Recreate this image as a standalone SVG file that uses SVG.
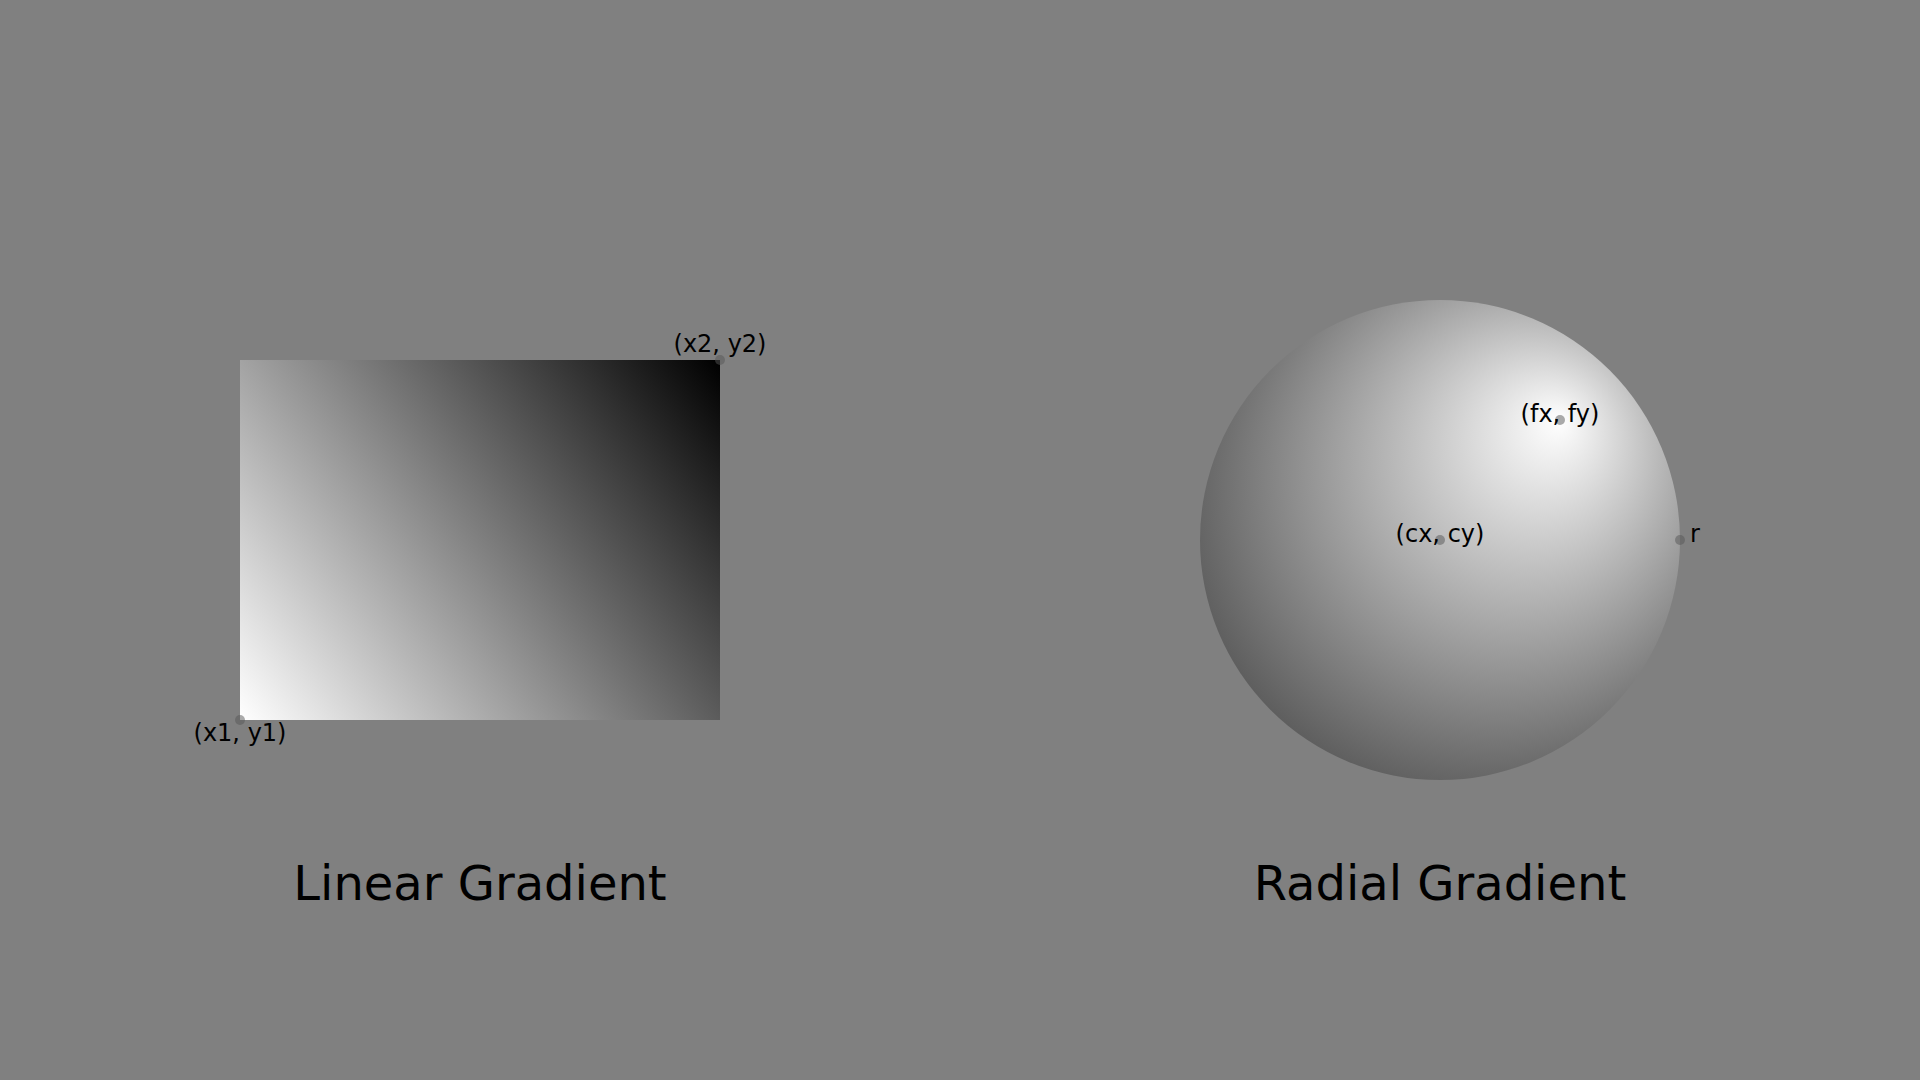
<svg xmlns="http://www.w3.org/2000/svg" width="1920" height="1080" viewBox="0 0 1920 1080">
  <style>
    .lbl { font-family: "DejaVu Sans", sans-serif; font-size: 24px; fill: #000; }
    .title { font-family: "DejaVu Sans", sans-serif; font-size: 48px; fill: #000; text-anchor: middle; }
    .dot { fill: #555; fill-opacity: 0.5; }
  </style>
  <defs>
    <linearGradient id="lin" gradientUnits="userSpaceOnUse" x1="240" y1="720" x2="720" y2="360">
      <stop offset="0" stop-color="#fff"/>
      <stop offset="1" stop-color="#000"/>
    </linearGradient>
    <radialGradient id="rad" gradientUnits="userSpaceOnUse" cx="1440" cy="540" r="480" fx="1560" fy="420">
      <stop offset="0" stop-color="#fff"/>
      <stop offset="1" stop-color="#000"/>
    </radialGradient>
  </defs>
  <rect width="1920" height="1080" fill="#808080"/>
  <g id="linear">
    <rect x="240" y="360" width="480" height="360" fill="url(#lin)"/>
    <circle class="dot" cx="240" cy="720" r="5"/>
    <circle class="dot" cx="720" cy="360" r="5"/>
    <text class="lbl" x="240" y="741" text-anchor="middle">(x1, y1)</text>
    <text class="lbl" x="720" y="352" text-anchor="middle">(x2, y2)</text>
    <text class="title" x="480" y="900">Linear Gradient</text>
  </g>
  <g id="radial">
    <circle cx="1440" cy="540" r="240" fill="url(#rad)"/>
    <circle class="dot" cx="1440" cy="540" r="5"/>
    <circle class="dot" cx="1560" cy="420" r="5"/>
    <circle class="dot" cx="1680" cy="540" r="5"/>
    <text class="lbl" x="1440" y="542" text-anchor="middle">(cx, cy)</text>
    <text class="lbl" x="1560" y="422" text-anchor="middle">(fx, fy)</text>
    <text class="lbl" x="1690" y="542">r</text>
    <text class="title" x="1440" y="900">Radial Gradient</text>
  </g>
  <g id="connectors"/>
</svg>
